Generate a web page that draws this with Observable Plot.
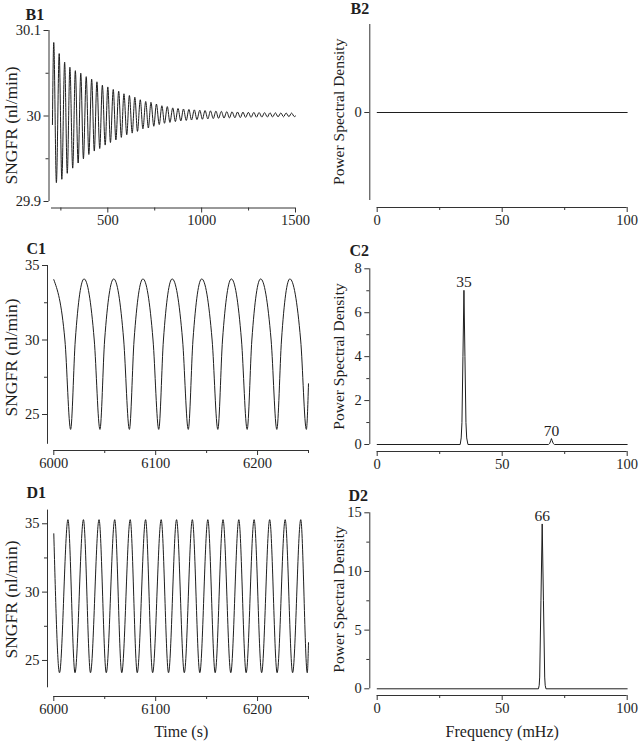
<!DOCTYPE html>
<html><head><meta charset="utf-8">
<script src="https://cdn.jsdelivr.net/npm/d3@7"></script>
<script src="https://cdn.jsdelivr.net/npm/@observablehq/plot@0.6"></script>
<style>
html,body{margin:0;padding:0;background:#fff;}
#fig{position:relative;width:639px;height:741px;overflow:hidden;font-family:'Liberation Serif','Times New Roman',serif;}
#fig svg text{font-family:'Liberation Serif','Times New Roman',serif;}
</style></head><body><div id="fig"></div>
<script>
// ---------- B1: damped SNGFR oscillation (extrema) ----------
const b1PeakTime = [212,241,270,298,327,356,385,414,442,471,500,529,558,586,615,644,673,702,730,759,788,817,846,874,903,932,961,990,1018,1047,1076,1105,1134,1162,1191,1220,1249,1278,1306,1335,1364,1393,1422,1450,1479];
const b1PeakValue = [30.086,30.073,30.063,30.057,30.053,30.050,30.046,30.043,30.040,30.036,30.034,30.031,30.029,30.026,30.024,30.022,30.019,30.017,30.016,30.014,30.012,30.011,30.0095,30.0088,30.0082,30.0077,30.0072,30.0068,30.0064,30.0060,30.0057,30.0054,30.0051,30.0049,30.0047,30.0045,30.0043,30.0042,30.0040,30.0039,30.0038,30.0037,30.0036,30.0035,30.0034];
const b1TroughTime = [226,255,284,313,342,370,399,428,457,486,514,543,572,601,630,658,687,716,745,774,802,831,860,889,918,946,975,1004,1033,1062,1090,1119,1148,1177,1206,1234,1263,1292,1321,1350,1378,1407,1436,1465,1494];
const b1TroughValue = [29.922,29.926,29.933,29.939,29.945,29.950,29.955,29.959,29.962,29.966,29.969,29.972,29.975,29.978,29.980,29.982,29.985,29.986,29.988,29.990,29.9915,29.9925,29.9935,29.9942,29.9948,29.9953,29.9958,29.9962,29.9966,29.9970,29.9973,29.9976,29.9978,29.9980,29.9982,29.9984,29.9985,29.9986,29.9987,29.9988,29.9989,29.9990,29.9991,29.9992,29.9993];
const b1EdgeTime = [205, 1500];
const b1EdgeValue = [29.99, 30.0];

// ---------- B2: flat spectrum ----------
const b2Freq = [0, 100];
const b2Psd = [0, 0];

// ---------- C1: SNGFR limit cycle (~35 mHz) ----------
const c1PeakTime = [6029.7,6058.8,6087.5,6116.2,6145.2,6174.3,6203.0,6231.7];
const c1PeakValue = [34.1,34.1,34.1,34.1,34.1,34.1,34.1,34.1];
const c1TroughTime = [6016.5,6045.3,6074.2,6103.0,6132.0,6161.0,6189.8,6218.9,6247.9];
const c1TroughValue = [24.0,24.0,24.0,24.0,24.0,24.0,24.0,24.0,24.0];
const c1MidTime = [6010.9,6021.1,6039.7,6049.9,6068.6,6078.8,6097.4,6107.6,6126.4,6136.6,6155.4,6165.6,6184.2,6194.4,6213.3,6223.5,6242.3];
const c1MidValue = [30,30,30,30,30,30,30,30,30,30,30,30,30,30,30,30,30];
const c1EdgeTime = [6000, 6250];
const c1EdgeValue = [34.05, 27.06];

// ---------- C2: spectrum ----------
const c2Freq = [0, 33.2, 33.6, 33.9, 34.3, 34.7, 35.1, 35.5, 35.8, 36.3, 68.5, 69.0, 69.4, 69.7, 70.0, 70.4, 70.9, 100];
const c2Psd  = [0, 0, 0.3, 1.0, 4.0, 7.02, 4.0, 1.0, 0.3, 0, 0, 0.05, 0.17, 0.27, 0.17, 0.05, 0, 0];
const c2PeakLabel = ["35", "70"];
const c2PeakFreq = [34.7, 69.7];
const c2PeakPsd = [7.02, 0.27];

// ---------- D1: SNGFR limit cycle (~66 mHz) ----------
const d1PeakTime = [6013.9,6029.1,6044.4,6059.8,6075.0,6090.1,6105.4,6120.5,6136.0,6151.2,6166.1,6181.6,6196.6,6211.9,6227.1,6242.4];
const d1PeakValue = [35.3,35.3,35.3,35.3,35.3,35.3,35.3,35.3,35.3,35.3,35.3,35.3,35.3,35.3,35.3,35.3];
const d1TroughTime = [6005.6,6020.8,6036.0,6051.5,6066.7,6081.9,6097.0,6112.6,6128.1,6143.3,6158.4,6173.7,6188.8,6204.0,6219.2,6234.4,6248.8];
const d1TroughValue = [24.1,24.1,24.1,24.1,24.1,24.1,24.1,24.1,24.1,24.1,24.1,24.1,24.1,24.1,24.1,24.1,24.1];
const d1EdgeTime = [6000, 6250];
const d1EdgeValue = [34.27, 26.3];

// ---------- D2: spectrum ----------
const d2Freq = [0, 64.5, 64.8, 65.0, 65.5, 66.0, 66.5, 67.0, 67.2, 67.5, 100];
const d2Psd  = [0, 0, 0.3, 1.0, 7.5, 14.05, 7.5, 1.0, 0.3, 0, 0];
const d2PeakLabel = ["66"];
const d2PeakFreq = [66.0];
const d2PeakPsd = [14.05];

// ---------- tick labels ----------
const b1XTicks = [500, 1000, 1500], b1XMinor = [250, 750, 1250];
const b1YTicks = [29.9, 30, 30.1], b1YMinor = [29.95, 30.05];
const timeXTicks = [6000, 6100, 6200], timeXMinor = [6050, 6150, 6250];
const sngfrYTicks = [25, 30, 35], sngfrYMinor = [27.5, 32.5];
const freqXTicks = [0, 50, 100], freqXMinor = [25, 75];
const b2YTicks = [0];
const c2YTicks = [0, 2, 4, 6, 8], c2YMinor = [1, 3, 5, 7];
const d2YTicks = [0, 5, 10, 15], d2YMinor = [2.5, 7.5, 12.5];

// ---------- helpers ----------
function pts(times, values) { return times.map((t, i) => ({x: t, y: values[i]})); }
function merge(...lists) { return lists.flat().sort((a, b) => a.x - b.x); }

const INK = "#1e1e1e";
const AXIS = "#333";
const FONT = "'Liberation Serif', 'Times New Roman', serif";
const fmt = d => String(d);

function panel(p) {
  const ml = p.axisX - p.left, mr = p.left + p.width - p.xEnd;
  const mt = p.yTop - p.top, mb = p.top + p.height - p.axisY;
  const il = p.xStart - p.axisX, ib = p.axisY - p.yBottom;
  const marks = [
    Plot.ruleX([p.xDomain[0]], {y1: p.yDomain[0], y2: p.yDomain[1], dx: -il, stroke: AXIS}),
    Plot.ruleY([p.yDomain[0]], {x1: p.xDomain[0], x2: p.xDomain[1], dy: ib, stroke: AXIS}),
    Plot.axisX(p.xTicks, {anchor: "bottom", tickSize: 5, tickPadding: 2, label: null, stroke: AXIS, tickFormat: fmt}),
    Plot.axisX(p.xMinor, {anchor: "bottom", tickSize: 3, label: null, stroke: AXIS, tickFormat: () => ""}),
    Plot.axisY(p.yTicks, {anchor: "left", tickSize: 5, tickPadding: 3, label: null, stroke: AXIS, tickFormat: fmt}),
  ];
  if (p.yMinor) marks.push(Plot.axisY(p.yMinor, {anchor: "left", tickSize: 3, label: null, stroke: AXIS, tickFormat: () => ""}));
  marks.push(Plot.line(p.data, {x: "x", y: "y", curve: p.curve, stroke: INK, strokeWidth: 1}));
  if (p.peaks) marks.push(Plot.text(p.peaks, {x: "x", y: "y", text: "label", lineAnchor: "bottom", dy: -3, fontSize: 15.5, fill: INK, fontFamily: FONT}));
  marks.push(Plot.text([p.tag], {text: d => d, frameAnchor: "top-left", textAnchor: "start", lineAnchor: "middle",
    dx: p.tagX - p.axisX, dy: p.tagY - p.yTop, fontWeight: "bold", fontSize: 16, fill: INK, fontFamily: FONT}));
  marks.push(Plot.text([p.yLabel], {text: d => d, frameAnchor: "left", rotate: -90, textAnchor: "middle", lineAnchor: "middle",
    dx: p.yLabelX - p.axisX, dy: p.yLabelY - (p.yTop + p.axisY) / 2, fontSize: p.yLabelSize, fill: INK, fontFamily: FONT}));
  if (p.xLabel) marks.push(Plot.text([p.xLabel], {text: d => d, frameAnchor: "bottom", lineAnchor: "middle",
    dx: p.xLabelX - (p.axisX + p.xEnd) / 2, dy: p.xLabelY - p.axisY, fontSize: 16, fill: INK, fontFamily: FONT}));
  const svg = Plot.plot({
    width: p.width, height: p.height,
    marginLeft: ml, marginRight: mr, marginTop: mt, marginBottom: mb,
    x: {domain: p.xDomain, insetLeft: il, insetRight: 0},
    y: {domain: p.yDomain, insetBottom: ib, insetTop: 0},
    style: {fontFamily: FONT, fontSize: "14.5px", color: INK, background: "transparent", overflow: "visible"},
    marks
  });
  svg.style.position = "absolute";
  svg.style.left = p.left + "px";
  svg.style.top = p.top + "px";
  svg.style.maxWidth = "none";
  document.getElementById("fig").appendChild(svg);
}

const left = {left: 0, width: 320, axisX: 47, xStart: 53.3, xEnd: 308, yLabel: "SNGFR (nl/min)", yLabelX: 11, yLabelSize: 17.5};
const right = {left: 320, width: 319, axisX: 369.3, xStart: 376.7, xEnd: 626.7, yLabel: "Power Spectral Density", yLabelX: 339, yLabelSize: 15.5,
  xDomain: [0, 100], xTicks: freqXTicks, xMinor: freqXMinor, curve: "linear"};

panel({...left, axisX: 48.5, xStart: 51, xEnd: 295, top: 0, height: 235, yTop: 30, yBottom: 201, axisY: 207.5,
  xDomain: [200, 1500], yDomain: [29.9, 30.1], xTicks: b1XTicks, xMinor: b1XMinor, yTicks: b1YTicks, yMinor: b1YMinor,
  data: merge(pts(b1EdgeTime, b1EdgeValue), pts(b1PeakTime, b1PeakValue), pts(b1TroughTime, b1TroughValue)), curve: "monotone-x",
  tag: "B1", tagX: 25, tagY: 14.7, yLabelY: 125});

panel({...right, top: 0, height: 235, yTop: 24, yBottom: 200, axisY: 207,
  yDomain: [-1, 1], yTicks: b2YTicks, data: pts(b2Freq, b2Psd),
  tag: "B2", tagX: 350, tagY: 8, yLabelY: 111.3});

panel({...left, top: 235, height: 235, yTop: 265, yBottom: 443.8, axisY: 450,
  xDomain: [6000, 6250], yDomain: [23, 35], xTicks: timeXTicks, xMinor: timeXMinor, yTicks: sngfrYTicks, yMinor: sngfrYMinor,
  data: merge(pts(c1EdgeTime, c1EdgeValue), pts(c1PeakTime, c1PeakValue), pts(c1TroughTime, c1TroughValue), pts(c1MidTime, c1MidValue)), curve: "monotone-x",
  tag: "C1", tagX: 26, tagY: 248, yLabelY: 357});

panel({...right, top: 235, height: 235, yTop: 268.3, yBottom: 444, axisY: 451,
  yDomain: [0, 8], yTicks: c2YTicks, yMinor: c2YMinor, data: pts(c2Freq, c2Psd),
  peaks: c2PeakLabel.map((l, i) => ({label: l, x: c2PeakFreq[i], y: c2PeakPsd[i]})),
  tag: "C2", tagX: 349, tagY: 250.5, yLabelY: 356});

panel({...left, top: 470, height: 271, yTop: 509.6, yBottom: 687.3, axisY: 696,
  xDomain: [6000, 6250], yDomain: [23, 36], xTicks: timeXTicks, xMinor: timeXMinor, yTicks: sngfrYTicks, yMinor: sngfrYMinor,
  data: merge(pts(d1EdgeTime, d1EdgeValue), pts(d1PeakTime, d1PeakValue), pts(d1TroughTime, d1TroughValue)), curve: "monotone-x",
  tag: "D1", tagX: 26, tagY: 492, yLabelY: 599, xLabel: "Time (s)", xLabelX: 180.7, xLabelY: 731});

panel({...right, top: 470, height: 271, yTop: 512.3, yBottom: 688.3, axisY: 695,
  yDomain: [0, 15], yTicks: d2YTicks, yMinor: d2YMinor, data: pts(d2Freq, d2Psd),
  peaks: d2PeakLabel.map((l, i) => ({label: l, x: d2PeakFreq[i], y: d2PeakPsd[i]})),
  tag: "D2", tagX: 348, tagY: 495.5, yLabelY: 599, xLabel: "Frequency (mHz)", xLabelX: 501.7, xLabelY: 731});
</script>
</body></html>
